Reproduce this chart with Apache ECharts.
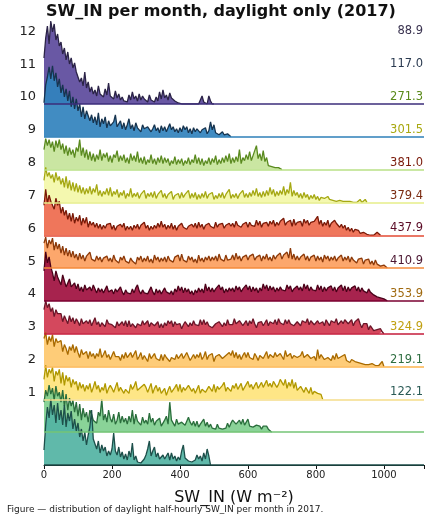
<!DOCTYPE html>
<html><head><meta charset="utf-8">
<script src="https://cdn.jsdelivr.net/npm/echarts@6/dist/echarts.min.js"></script>
<style>html,body{margin:0;padding:0;background:#fff}#c{width:431px;height:523px}</style>
</head><body><div id="c"></div>
<script>
// ---- data ----
const monthLabels = ['1','2','3','4','5','6','7','8','9','10','11','12'];
const meanValues = ['122.1','219.1','324.9','353.9','410.9','437.9','379.4','381.0','301.5','271.3','117.0','88.9'];
const xTicks = [0, 200, 400, 600, 800, 1000];
const binWidth = 5; // W m-2 per bin
// half-hourly counts per bin (relative heights), bins start at 0
const jan = [15,40,58,47,66,50,60,42,62,45, 55,40,60,38,52,44,54,36,46,34, 42,28,36,24,33,20,30,38,55,26, 28,16,24,12,20,14,18,9,14,10, 16,32,14,10,18,8,13,6,11,5, 14,8,22,5,9,3,4,2,4,6, 10,16,24,9,14,18,8,12,6,4, 10,6,8,12,5,12,6,9,4,8, 5,14,20,7,8,4,2,3,2,5, 10,6,9,4,12,6,16,9,0];
const feb = [30,42,36,47,38,44,32,46,36,40, 30,42,26,38,22,34,26,32,20,30, 16,28,12,24,15,20,10,22,18,12, 14,9,20,16,33,12,18,10,22,14, 10,18,8,12,20,9,16,10,14,8, 16,10,22,8,18,11,13,7,15,9, 12,8,19,10,14,7,11,9,14,6, 9,12,16,8,30,12,10,6,13,8, 6,10,12,7,8,15,10,7,11,6, 11,5,8,9,13,6,10,5,8,4, 6,3,8,4,6,3,5,4,9,5, 9,12,14,8,10,12,8,13,7,10, 13,6,7,5,4,7,5,6,3,6, 4,6,3,5,0];
const mar = [20,34,22,30,26,32,18,28,24,30, 16,27,14,24,18,22,12,20,15,18, 9,17,11,15,8,14,10,16,7,12, 18,10,14,7,12,9,16,6,11,14, 11,7,9,17,8,12,13,6,10,8, 6,15,10,13,18,9,7,12,10,15, 12,7,9,16,6,11,14,8,12,6, 8,11,4,9,13,7,9,12,15,8, 15,7,12,9,10,14,16,8,11,6, 8,14,6,10,12,7,9,13,15,8, 15,7,13,10,9,14,17,8,12,10, 8,14,11,16,10,13,16,9,12,15, 18,12,15,10,14,17,11,13,17,12, 11,19,13,16,12,18,16,12,15,20, 22,14,20,11,17,13,20,11,17,9, 9,13,10,7,12,9,6,12,5,8, 9,6,4,5,0];
const apr = [28,34,22,30,25,32,20,28,24,26, 26,15,22,18,12,20,16,22,14,20, 14,9,17,12,11,15,8,15,10,13, 8,13,10,18,9,12,16,9,12,7, 7,15,10,12,10,6,12,8,14,9, 8,14,9,11,16,7,10,14,7,11, 11,5,13,8,10,13,8,10,6,12, 6,12,9,11,5,9,11,7,12,8, 7,13,8,10,14,10,6,9,12,8, 12,9,14,7,10,15,7,11,9,13, 5,10,8,12,13,8,6,11,10,14, 11,16,9,14,8,12,7,11,14,9, 14,9,11,7,13,10,6,11,13,8, 10,15,8,12,12,9,14,10,9,13, 14,7,16,10,10,13,8,11,13,9, 8,11,15,9,9,12,12,8,6,10, 6,17,8,12,10,7,5,9,11,6, 11,7,13,8,6,10,9,12,6,8, 4,7,8,5,3,4,2,3,4,2, 3,2,2,3,2,1,2,1,3,5, 0];
const may = [24,33,26,30,22,26,17,24,20,22, 20,12,18,14,10,18,12,16,10,15, 12,8,15,10,8,13,10,14,8,12, 16,9,12,7,11,9,7,14,10,12, 9,11,6,12,8,10,12,8,13,7, 13,7,10,12,6,10,11,8,13,9, 8,13,7,11,12,8,9,12,6,10, 6,11,8,13,10,13,7,12,9,11, 10,5,9,12,12,7,11,8,13,9, 11,8,14,9,14,9,12,8,10,6, 6,10,8,12,13,7,11,8,14,9, 11,9,15,10,10,13,12,8,10,13, 8,13,10,15,10,6,11,9,12,8, 9,14,8,12,12,10,14,9,15,11, 11,9,14,10,14,10,12,8,10,12, 12,8,13,11,11,15,9,13,15,9, 9,13,10,12,12,8,14,11,8,13, 14,11,15,9,9,13,10,14,13,10, 10,14,8,12,12,15,10,6,10,8, 10,4,8,6,3,5,4,3,5,2, 0];
const jun = [30,49,38,44,34,28,20,30,24,20, 16,26,20,14,18,22,14,12,18,12, 17,10,14,9,16,11,9,14,10,16, 12,8,13,9,12,8,10,15,9,7, 11,7,12,9,8,14,9,6,11,8, 10,7,12,8,13,16,10,7,11,8, 10,7,9,14,9,6,12,8,11,7, 8,13,9,11,7,10,6,12,9,15, 10,14,8,13,9,12,7,10,6,11, 8,13,9,12,8,17,10,14,9,13, 9,12,10,16,11,14,8,12,9,13, 10,13,9,15,11,14,9,12,10,16, 11,15,9,14,10,13,8,13,10,17, 12,16,10,15,11,14,9,13,10,14, 11,13,10,16,12,15,9,12,10,15, 11,14,10,17,12,16,10,14,11,12, 10,16,11,15,9,14,10,13,11,15, 10,14,9,13,11,16,10,15,9,14, 10,13,11,15,10,14,9,13,10,12, 8,12,9,11,6,7,4,5,3,2, 2,1,0];
const jul = [25,31,20,28,24,30,18,26,19,24, 15,22,13,20,12,18,11,17,10,14, 8,15,9,13,7,12,10,16,9,11, 7,12,8,11,6,10,8,12,7,10, 6,13,8,10,5,11,8,12,7,9, 5,10,7,9,4,11,8,12,6,10, 7,12,6,9,5,13,8,11,6,10, 7,11,6,12,8,10,6,11,9,13, 7,14,8,10,6,12,8,11,6,9, 5,13,7,10,6,11,8,12,7,11, 8,12,7,14,9,11,7,13,8,10, 9,13,8,15,9,12,7,11,9,13, 8,12,10,14,8,11,9,13,7,12, 9,14,8,11,7,13,9,12,10,15, 9,13,11,16,10,20,9,14,8,12, 8,11,9,14,8,12,7,11,9,13, 7,12,8,11,6,13,9,12,7,11, 8,12,7,10,9,13,7,11,8,12, 6,11,8,10,5,9,7,10,4,8, 6,9,4,7,3,8,4,5,2,3, 3,2,0];
const aug = [30,46,32,40,34,30,26,37,30,34, 22,28,20,25,16,22,14,22,12,18, 14,20,10,17,12,18,8,14,10,13, 8,12,7,11,6,10,7,11,9,12, 6,10,5,9,7,11,8,12,5,9, 6,9,5,10,7,11,6,10,8,13, 7,10,5,9,6,10,7,12,8,14, 8,11,6,10,7,12,6,10,5,9, 7,12,8,10,6,9,7,11,8,12, 7,13,8,11,6,10,8,12,9,11, 7,13,8,11,9,12,7,10,8,12, 9,12,8,14,10,12,8,11,9,13, 8,13,10,12,9,15,10,14,8,12, 10,13,9,14,11,15,9,13,10,14, 12,17,10,13,11,15,9,16,10,13, 11,14,9,16,12,15,10,13,11,14, 12,19,11,15,9,13,10,15,8,12, 10,15,12,13,8,11,7,10,5,8, 4,7,3,6,4,5,2,4,3,4, 1,2,0,0,0,1,3,1,0];
const sep = [22,35,26,30,24,28,20,30,22,26, 18,24,15,26,14,22,12,20,11,19, 10,17,9,15,8,14,9,16,8,14, 10,18,7,12,6,11,8,14,7,15, 6,11,8,13,5,10,7,12,4,9, 6,14,5,9,6,10,4,8,7,12, 4,9,6,10,5,11,4,8,6,12, 5,9,4,8,6,11,3,7,5,9, 4,10,5,8,6,12,4,9,5,10, 3,8,4,9,5,11,4,8,6,10, 3,7,4,9,5,10,4,8,6,13, 4,8,5,9,4,8,6,12,5,9, 5,10,6,12,7,14,6,10,5,11, 6,12,7,15,8,13,6,11,7,12, 8,16,7,13,9,20,6,12,7,10, 5,9,4,10,5,8,3,7,4,8, 3,6,2,5,3,4,2,6,3,5, 2,4,1,3,2,4,1,3,1,2, 1,0,0,0,0,0,3,0,0,3,0];
const oct = [20,31,24,30,22,28,18,29,22,30, 20,26,16,24,14,22,15,20,12,22, 18,30,14,22,12,20,10,18,9,16, 8,15,10,20,9,16,12,17,8,14, 7,15,12,19,8,14,9,15,7,12, 6,16,9,14,8,18,7,12,6,13, 5,10,7,15,6,11,5,12,7,14, 6,12,7,11,4,9,6,13,5,10, 6,11,4,9,6,12,5,10,7,15, 6,12,5,11,4,9,6,12,5,11, 7,14,5,10,6,12,7,14,8,16, 6,12,7,13,8,20,6,12,9,15, 10,18,9,14,12,24,11,16,9,19, 8,12,4,6,3,5,2,4,2,3, 0];
const nov = [34,52,60,70,58,71,56,64,50,58, 44,52,40,48,36,46,30,40,28,38, 26,33,20,30,18,26,24,16,22,14, 20,12,24,10,18,13,20,9,16,11, 9,15,22,10,12,16,8,14,7,12, 18,8,12,6,14,9,11,5,12,8, 6,10,9,5,8,12,6,9,4,11, 6,10,5,9,13,7,10,5,8,4, 9,5,11,7,10,4,8,3,9,5, 8,10,4,7,5,9,3,6,15,7, 12,4,6,2,3,5,2,4,3,5, 0];
const dec = [46,66,78,60,83,72,80,64,70,58, 62,50,56,44,52,40,46,36,41,32, 30,22,26,18,32,16,22,12,17,10, 14,8,18,10,12,7,15,9,21,8, 9,5,13,6,10,4,7,3,5,2, 9,4,12,5,8,3,10,4,8,5, 5,2,9,4,6,2,7,3,12,5, 14,6,9,4,11,6,8,3,4,1, 1,0,0,0,0,0,0,0,0,0, 0,0,0,8,2,0,0,8,3,0, 0];
const monthCounts = [jan, feb, mar, apr, may, jun, jul, aug, sep, oct, nov, dec];

// ---- styles / layout ----
const fills = ['#52b3a3','#80cf8f','#fee47c','#fec86c','#d0384f','#a0103f','#fca060','#ee6a4d','#f3f7a8','#c5e49a','#3182bd','#5c4a9c'];
const lines = ['#1d4f4a','#2a6e3c','#b09800','#a86a00','#6b1528','#4a0018','#8c3a0a','#7a1a08','#a5a812','#5a8a1f','#17344f','#2b2347'];
const baseCols = ['#1e4e4a','#74c476','#f5dc8a','#fdb44e','#c51b3a','#7a0030','#f58a3a','#e34a33','#e6ee88','#b8e186','#2c7fb8','#3b2d7a'];
const labelCols = ['#2a5a55','#2e6e40','#c0a010','#a06a10','#4a1530','#5a0a25','#7a2a10','#7a1a0a','#a8a810','#5a8a1a','#2a3a50','#3a3350'];
const H = 523;
const plotLeft = 44, plotRight = 7, plotTop = 20, axisY = 465;
const spacingPx = 32.82;
const heightScale = 1 / spacingPx;
const labelShift = 1.21;
const yMax = (axisY - plotTop) / spacingPx;
const labelPos = monthLabels.map((_, i) => i + 1 + labelShift);

const grids = [], xAxes = [], yAxes = [], series = [];
for (let i = 0; i < 12; i++) {
  const base = axisY - i * spacingPx;
  grids.push({ left: plotLeft, right: plotRight, top: plotTop, bottom: H - base });
  xAxes.push({
    gridIndex: i, type: 'value', min: 0, max: 1118, interval: 200,
    show: i === 0,
    name: i === 0 ? 'SW_IN (W m⁻²)' : '', nameLocation: 'middle', nameGap: 25,
    nameTextStyle: { fontFamily: 'DejaVu Sans', fontSize: 16, color: '#111' },
    axisLine: { show: true, lineStyle: { color: '#111', width: 1 } },
    axisTick: { show: true, length: 4, lineStyle: { color: '#111' } },
    axisLabel: { fontSize: 10, color: '#222', margin: 5, customValues: xTicks, formatter: v => String(v) },
    splitLine: { show: false }
  });
  yAxes.push({
    gridIndex: i, type: 'value', min: 0, max: yMax - i, show: i === 0,
    position: 'left',
    axisLine: { show: false }, axisTick: { show: false }, splitLine: { show: false },
    axisLabel: {
      customValues: labelPos, fontSize: 13, color: '#222', margin: 8,
      formatter: v => monthLabels[Math.round(v - labelShift) - 1]
    }
  });
}
// right-hand mean labels on the first grid
yAxes.push({
  gridIndex: 0, type: 'value', min: 0, max: yMax, position: 'right',
  axisLine: { show: false }, axisTick: { show: false }, splitLine: { show: false },
  axisLabel: {
    customValues: labelPos, inside: true, fontSize: 11.5, margin: 1,
    formatter: v => meanValues[Math.round(v - labelShift) - 1],
    color: v => labelCols[Math.round(v - labelShift) - 1]
  }
});

for (let i = 11; i >= 0; i--) {
  const counts = monthCounts[i];
  series.push({
    type: 'line', xAxisIndex: i, yAxisIndex: i, symbol: 'none', silent: true,
    data: counts.map((v, j) => [j * binWidth, v * heightScale]),
    lineStyle: { color: lines[i], width: 1.3 },
    areaStyle: { color: fills[i], opacity: 0.92 },
    markLine: {
      silent: true, symbol: ['none', 'none'], label: { show: false },
      lineStyle: { color: baseCols[i], width: 1.6, type: 'solid' },
      emphasis: { disabled: true },
      data: [{ yAxis: 0 }]
    }
  });
}

const chart = echarts.init(document.getElementById('c'), null, { renderer: 'canvas' });
chart.setOption({
  animation: false,
  backgroundColor: '#fff',
  textStyle: { fontFamily: 'DejaVu Sans' },
  title: {
    text: 'SW_IN per month, daylight only (2017)',
    left: 46, top: 4, padding: 0,
    textStyle: { fontFamily: 'DejaVu Sans', fontWeight: 'bold', fontSize: 16, color: '#111' }
  },
  graphic: [{
    type: 'text', left: 7, top: 505,
    style: { text: 'Figure — distribution of daylight half-hourly SW_IN per month in 2017.', font: '9px "DejaVu Sans"', fill: '#222' }
  }],
  grid: grids, xAxis: xAxes, yAxis: yAxes,
  series: series
});
</script></body></html>
